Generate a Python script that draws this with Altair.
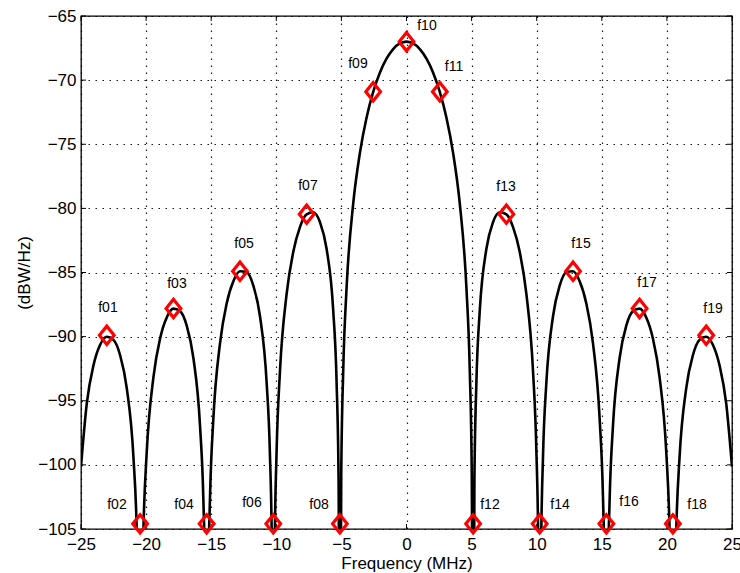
import altair as alt
import pandas as pd

# ---- spectrum curve ----
curve_freq = [
    -25.000, -24.552, -24.041, -23.529, -23.018, -22.506, -21.995, -21.483, -20.972, -20.716,
    -20.562, -20.460, -20.358, -20.204, -19.949, -19.437, -18.926, -18.414, -17.903, -17.391,
    -16.880, -16.368, -15.857, -15.601, -15.447, -15.345, -15.243, -15.089, -14.834, -14.322,
    -13.811, -13.299, -12.788, -12.276, -11.765, -11.253, -10.742, -10.486, -10.332, -10.230,
    -10.128, -9.974, -9.719, -9.207, -8.696, -8.184, -7.673, -7.161, -6.650, -6.138,
    -5.627, -5.371, -5.217, -5.115, -5.013, -4.859, -4.604, -4.092, -3.581, -3.069,
    -2.558, -2.046, -1.535, -1.023, -0.512, -0.256, 0.000,
    0.256, 0.512, 1.023, 1.535, 2.046, 2.558, 3.069, 3.581, 4.092, 4.604,
    4.859, 5.013, 5.115, 5.217, 5.371, 5.627, 6.138, 6.650, 7.161, 7.673,
    8.184, 8.696, 9.207, 9.719, 9.974, 10.128, 10.230, 10.332, 10.486, 10.742,
    11.253, 11.765, 12.276, 12.788, 13.299, 13.811, 14.322, 14.834, 15.089, 15.243,
    15.345, 15.447, 15.601, 15.857, 16.368, 16.880, 17.391, 17.903, 18.414, 18.926,
    19.437, 19.949, 20.204, 20.358, 20.460, 20.562, 20.716, 20.972, 21.483, 21.995,
    22.506, 23.018, 23.529, 24.041, 24.552, 25.000,
]
curve_db = [
    -100.13, -95.19, -92.23, -90.63, -90.01, -90.25, -91.45, -94.03, -99.40, -105.20,
    -113.07, -125.00, -112.98, -104.99, -98.96, -93.16, -90.15, -88.51, -87.82, -88.01,
    -89.15, -91.67, -96.97, -102.74, -110.58, -125.00, -110.47, -102.45, -96.39, -90.51,
    -87.41, -85.68, -84.90, -84.98, -86.02, -88.41, -93.59, -99.29, -107.09, -125.00,
    -106.92, -98.85, -92.72, -86.67, -83.39, -81.46, -80.47, -80.30, -81.06, -83.15,
    -87.97, -93.48, -101.16, -125.00, -100.81, -92.61, -86.23, -79.62, -75.69, -72.94,
    -70.92, -69.42, -68.33, -67.58, -67.14, -67.04, -67.00,
    -67.04, -67.14, -67.58, -68.33, -69.42, -70.92, -72.94, -75.69, -79.62, -86.23,
    -92.61, -100.81, -125.00, -101.16, -93.48, -87.97, -83.15, -81.06, -80.30, -80.47,
    -81.46, -83.39, -86.67, -92.72, -98.85, -106.92, -125.00, -107.09, -99.29, -93.59,
    -88.41, -86.02, -84.98, -84.90, -85.68, -87.41, -90.51, -96.39, -102.45, -110.47,
    -125.00, -110.58, -102.74, -96.97, -91.67, -89.15, -88.01, -87.82, -88.51, -90.15,
    -93.16, -98.96, -104.99, -112.98, -125.00, -113.07, -105.20, -99.40, -94.03, -91.45,
    -90.25, -90.01, -90.63, -92.23, -95.19, -100.13,
]

# ---- marked frequencies ----
marker_names = ["f01", "f02", "f03", "f04", "f05", "f06", "f07", "f08", "f09", "f10",
                "f11", "f12", "f13", "f14", "f15", "f16", "f17", "f18", "f19"]
marker_freq = [-23.02, -20.46, -17.90, -15.35, -12.79, -10.23, -7.67, -5.12, -2.56, 0.00,
               2.56, 5.12, 7.67, 10.23, 12.79, 15.35, 17.90, 20.46, 23.02]
marker_db = [-89.9, -104.6, -87.8, -104.6, -84.9, -104.6, -80.45, -104.6, -70.9, -67.0,
             -70.9, -104.6, -80.45, -104.6, -84.9, -104.6, -87.8, -104.6, -89.9]
label_freq = [-22.93, -22.24, -17.63, -17.09, -12.48, -11.87, -7.57, -6.72, -3.73, 1.57,
              3.65, 6.41, 7.64, 11.79, 13.40, 17.09, 18.47, 22.31, 23.54]
label_db = [-87.76, -103.11, -85.89, -103.11, -82.77, -102.96, -78.25, -103.11, -68.74, -65.78,
            -68.98, -103.11, -78.33, -103.11, -82.77, -102.88, -85.81, -103.11, -87.84]

x_ticks = [-25, -20, -15, -10, -5, 0, 5, 10, 15, 20, 25]
y_ticks = [-105, -100, -95, -90, -85, -80, -75, -70, -65]

W, H = 651, 513
FONT = "Liberation Sans"

curve = pd.DataFrame({"f": curve_freq, "db": curve_db})
marks = pd.DataFrame({"name": marker_names, "f": marker_freq, "db": marker_db})
labs = pd.DataFrame({"name": marker_names, "f": label_freq, "db": label_db})
xt = pd.DataFrame({"f": x_ticks})
yt = pd.DataFrame({"db": y_ticks})

xscale = alt.Scale(domain=[-25, 25], nice=False, zero=False, padding=0)
yscale = alt.Scale(domain=[-105, -65], nice=False, zero=False, padding=0)
xaxis = alt.Axis(values=x_ticks, grid=True, ticks=False, domain=False,
                 labelFlush=False, labelOverlap=False, labelPadding=7, titlePadding=3)
yaxis = alt.Axis(values=y_ticks, grid=True, ticks=False, domain=False,
                 labelFlush=False, labelOverlap=False, labelPadding=5, titlePadding=4)
X = alt.X("f:Q", scale=xscale, title="Frequency (MHz)", axis=xaxis)
Y = alt.Y("db:Q", scale=yscale, title="(dBW/Hz)", axis=yaxis)

line = alt.Chart(curve).mark_line(
    color="black", strokeWidth=2.6, clip=True, interpolate="monotone"
).encode(x=X, y=Y, order="f:Q")

tick_b = alt.Chart(xt).mark_rule(color="black", strokeWidth=1).encode(
    x=X, y=alt.value(H), y2=alt.value(H - 5))
tick_t = alt.Chart(xt).mark_rule(color="black", strokeWidth=1).encode(
    x=X, y=alt.value(0), y2=alt.value(5))
tick_l = alt.Chart(yt).mark_rule(color="black", strokeWidth=1).encode(
    y=Y, x=alt.value(0), x2=alt.value(5))
tick_r = alt.Chart(yt).mark_rule(color="black", strokeWidth=1).encode(
    y=Y, x=alt.value(W - 5), x2=alt.value(W))

points = alt.Chart(marks).mark_point(
    shape="M-1,0L0,-1.25L1,0L0,1.25Z", size=215, filled=False,
    color="#ff0000", strokeWidth=3.2, opacity=1, strokeJoin="miter"
).encode(x=X, y=Y)

labels = alt.Chart(labs).mark_text(
    font=FONT, fontSize=14, color="black", align="center", baseline="middle"
).encode(x=X, y=Y, text="name:N")

chart = alt.layer(line, tick_b, tick_t, tick_l, tick_r, points, labels).properties(
    width=W, height=H,
    padding={"left": 81, "top": 16, "right": 8, "bottom": 44},
    autosize="none",
    background="white",
).configure_view(
    stroke="black", strokeWidth=1.3
).configure_axis(
    labelFont=FONT, titleFont=FONT, labelFontSize=17, titleFontSize=17,
    titleFontWeight="normal", labelColor="black", titleColor="black",
    gridColor="black", gridDash=[1.5, 5.5], gridWidth=1.2, gridOpacity=0.9,
)

chart.save("out.html", embed_options={"renderer": "svg", "actions": False})
